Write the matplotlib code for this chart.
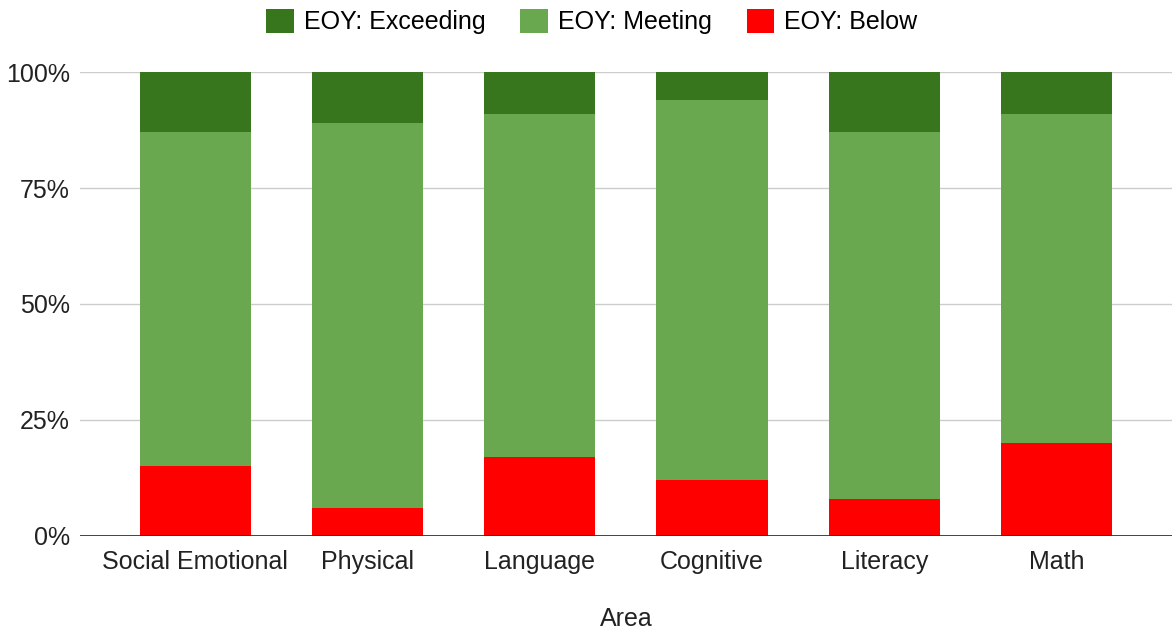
import matplotlib.pyplot as plt
from matplotlib.ticker import PercentFormatter

plt.rcParams['font.family'] = ['Liberation Sans', 'DejaVu Sans']

areas = ['Social Emotional', 'Physical', 'Language', 'Cognitive', 'Literacy', 'Math']
below = [15, 6, 17, 12, 8, 20]
meeting = [72, 83, 74, 82, 79, 71]
exceeding = [13, 11, 9, 6, 13, 9]

fig = plt.figure(figsize=(11.72, 6.32), dpi=100)
ax = fig.add_axes([0.068, 0.152, 0.932, 0.734])

x = range(len(areas))
w = 0.645
ax.bar(x, below, w, color='#ff0000', label='EOY: Below', zorder=3)
bot2 = below
ax.bar(x, meeting, w, bottom=bot2, color='#6aa84f', label='EOY: Meeting', zorder=3)
bot3 = [b + m for b, m in zip(below, meeting)]
ax.bar(x, exceeding, w, bottom=bot3, color='#38761d', label='EOY: Exceeding', zorder=3)

ax.set_xlim(-0.67, 5.67)
ax.set_ylim(0, 100)
ax.set_yticks([0, 25, 50, 75, 100])
ax.yaxis.set_major_formatter(PercentFormatter(decimals=0))
ax.grid(axis='y', color='#cccccc', linewidth=1, zorder=0)
ax.axhline(0, color='#333333', linewidth=2, zorder=4)
for s in ax.spines.values():
    s.set_visible(False)
ax.tick_params(axis='both', length=0, labelsize=18, colors='#222222')
ax.tick_params(axis='x', pad=10)
ax.tick_params(axis='y', pad=7)
ax.set_xticks(list(x))
ax.set_xticklabels(areas)
ax.set_xlabel('Area', fontsize=18, color='#222222', labelpad=24)

h, l = ax.get_legend_handles_labels()
fig.legend(h[::-1], l[::-1], loc='upper center', bbox_to_anchor=(0.505, 1.022), ncol=3,
           frameon=False, fontsize=18, handlelength=1.1, handleheight=1.1,
           columnspacing=1.4, handletextpad=0.4)

plt.savefig('out.png', dpi=100)
